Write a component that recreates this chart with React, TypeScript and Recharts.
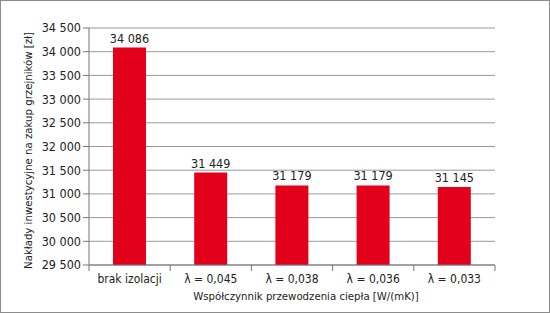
import { Bar, BarChart, CartesianGrid, LabelList, XAxis, YAxis } from 'recharts';

const categories = ['brak izolacji', 'λ = 0,045', 'λ = 0,038', 'λ = 0,036', 'λ = 0,033'];
const costs = [34086, 31449, 31179, 31179, 31145];
const yTicks = [29500, 30000, 30500, 31000, 31500, 32000, 32500, 33000, 33500, 34000, 34500];

const data = categories.map((name, i) => ({ name, cost: costs[i] }));

const fmt = (v: number) => String(v).replace(/\B(?=(\d{3})+(?!\d))/g, ' ');

const FONT = '"DejaVu Sans Condensed", "Liberation Sans Narrow", sans-serif';

function CategoryTick(props: any) {
  const { x, y, payload, index, visibleTicksCount } = props;
  const half = payload.offset ?? 0;
  const last = index === (visibleTicksCount ?? categories.length) - 1;
  return (
    <g>
      <line x1={x - half} y1={y - 8} x2={x - half} y2={y - 2} stroke="#777" />
      {last && <line x1={x + half} y1={y - 8} x2={x + half} y2={y - 2} stroke="#777" />}
      <text x={x} y={y + 10} textAnchor="middle" fill="#222" fontSize={12}>
        {payload.value}
      </text>
    </g>
  );
}

function ValueLabel(props: any) {
  const { x, y, width, value } = props;
  return (
    <text x={x + width / 2} y={y - 5} textAnchor="middle" fill="#222" fontSize={12.5}>
      {fmt(Number(value))}
    </text>
  );
}

export default function App() {
  return (
    <div
      style={{
        position: 'fixed',
        left: 0,
        top: 0,
        width: 550,
        height: 313,
        boxSizing: 'border-box',
        border: '1px solid #8c8c8c',
        background: '#fff',
        fontFamily: FONT,
      }}
    >
      <BarChart width={548} height={311} data={data} margin={{ top: 27, right: 54, bottom: 0, left: 0 }}>
        <CartesianGrid vertical={false} stroke="#999" />
        <XAxis
          dataKey="name"
          height={47}
          axisLine={{ stroke: '#777' }}
          tickLine={false}
          tick={<CategoryTick />}
          interval={0}
          label={{
            value: 'Współczynnik przewodzenia ciepła [W/(mK)]',
            position: 'insideBottom',
            offset: 12,
            dx: 14,
            fill: '#222',
            fontSize: 11.3,
          }}
        />
        <YAxis
          width={88}
          domain={[29500, 34500]}
          ticks={yTicks}
          interval={0}
          allowDataOverflow
          tickFormatter={fmt}
          axisLine={{ stroke: '#777' }}
          tickLine={{ stroke: '#777' }}
          tickSize={6}
          tick={{ fill: '#222', fontSize: 12.5 }}
          label={{
            value: 'Nakłady inwestycyjne na zakup grzejników [zł]',
            angle: -90,
            position: 'insideLeft',
            offset: 27,
            dy: 4,
            fill: '#222',
            fontSize: 11.3,
            style: { textAnchor: 'middle' },
          }}
        />
        <Bar dataKey="cost" fill="#e2001a" barSize={33} isAnimationActive={false}>
          <LabelList dataKey="cost" content={<ValueLabel />} />
        </Bar>
      </BarChart>
    </div>
  );
}
